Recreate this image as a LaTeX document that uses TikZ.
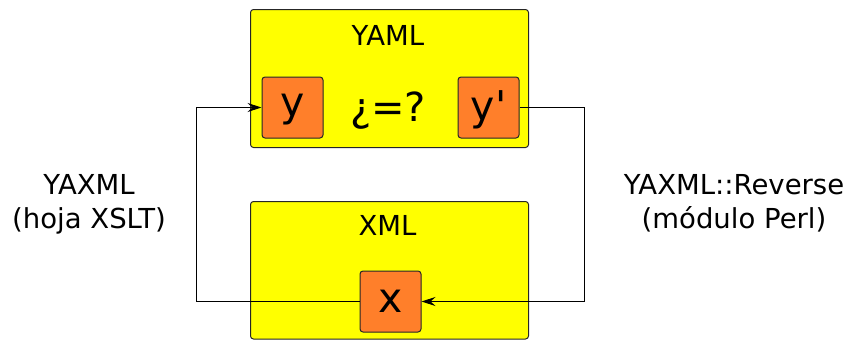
\documentclass[tikz,border=0pt]{standalone}
\usepackage{fontspec}
\setmainfont{DejaVu Sans}
% plain family without TeX ligatures, so ' stays a straight quote
\newfontfamily\plainfont{DejaVu Sans}
\usetikzlibrary{arrows.meta}
\definecolor{boxyellow}{HTML}{FFFF00}
\definecolor{boxorange}{HTML}{FF7F2A}
\begin{document}
\begin{tikzpicture}[x=1pt,y=-1pt,
  outerbox/.style={draw=black!85,fill=boxyellow,line width=1pt,rounded corners=3pt},
  innerbox/.style={draw=black!85,fill=boxorange,line width=1pt,rounded corners=3pt,
    minimum width=61pt,minimum height=61pt,inner sep=0pt,font=\plainfont\fontsize{41}{46}\selectfont},
  title/.style={font=\fontsize{27.5}{33}\selectfont,anchor=base},
  label/.style={font=\fontsize{27.5}{34}\selectfont,align=center,anchor=base},
  link/.style={draw=black,line width=0.9pt,-{Stealth[length=14pt,width=9pt,inset=5pt]}}]
\useasboundingbox (0,0) rectangle (849,340);
% the two documents
\draw[outerbox] (250.5,9.5) rectangle (528.5,147.5);
\draw[outerbox] (250.5,201.5) rectangle (528.5,339);
\node[title] (yaml) at (388,45.7) {YAML};
\node[title] (xml) at (387.5,235.7) {XML};
% their contents
\node[innerbox,text depth=3.5pt] (y) at (292.5,107.5) {y};
\node[innerbox,text depth=3.5pt] (yp) at (488.5,107.5) {y'};
\node[innerbox] (x) at (390.5,301.5) {x};
\node[font=\fontsize{40}{44}\selectfont,anchor=base] (eq) at (388,121.7) {¿=?};
% conversions
\coordinate (lc) at (196,301.5);
\coordinate (rc) at (584,107.5);
\draw[link] (x.west) -- (lc) |- (y.west);
\draw[link] (yp.east) -- (rc) |- (x.east);
\node[label] (l) at (89,194) {YAXML};
\node[label] (l2) at (89,228) {(hoja XSLT)};
\node[label] (r) at (734,194) {YAXML::Reverse};
\node[label] (r2) at (734,228) {(módulo Perl)};
\end{tikzpicture}
\end{document}
